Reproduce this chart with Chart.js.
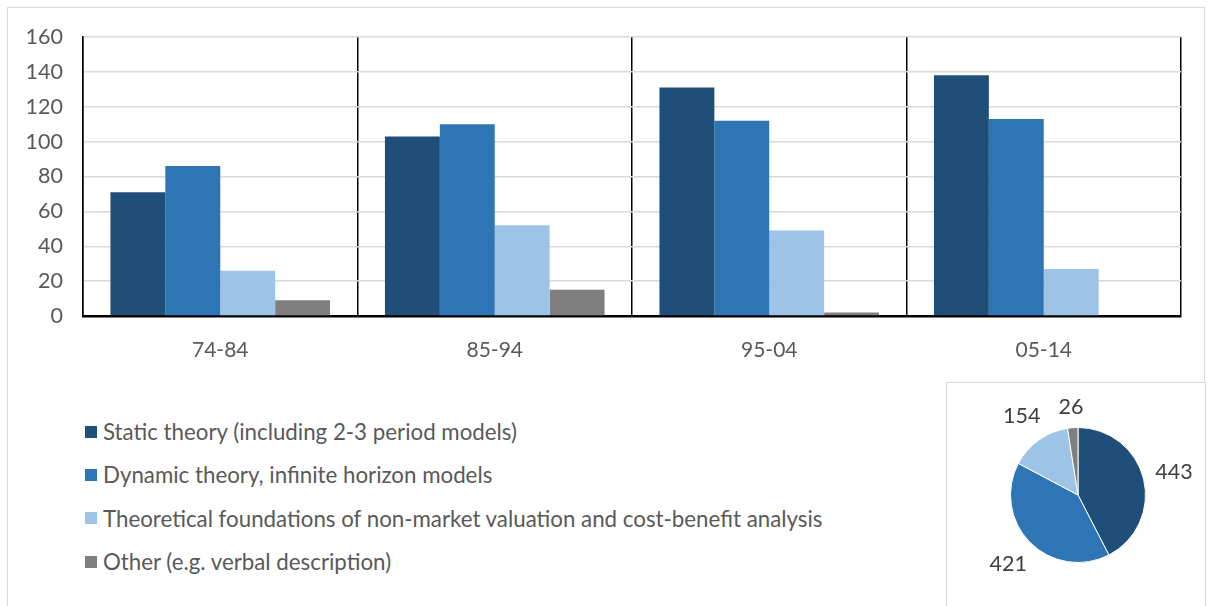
<!DOCTYPE html>
<html>

<head>
  <title>Theory papers by decade</title>
  <script src="https://cdn.jsdelivr.net/npm/chart.js"></script>
  <style>
    body { margin: 0; background: #fff; font-family: Lato, "Open Sans", sans-serif; }
    #frame { position: absolute; left: 7px; top: 7px; width: 1196px; height: 620px; border: 1.5px solid #d9d9d9; }
    #barWrap { position: absolute; left: 0; top: 0; width: 1210px; height: 380px; }
    #legend { position: absolute; left: 85px; top: 410px; color: #595959; font-size: 22.3px; }
    #legend div { height: 43.3px; display: flex; align-items: center; }
    #legend span.box { display: inline-block; width: 12px; height: 12px; margin-right: 6px; }
    #pieWrap { position: absolute; left: 946px; top: 382px; width: 258px; height: 230px; border: 1.5px solid #d9d9d9; background: #fff; }
  </style>
</head>

<body>
  <div id="frame"></div>
  <div id="barWrap"><canvas id="barChart"></canvas></div>
  <div id="legend"></div>
  <div id="pieWrap"><canvas id="pieChart"></canvas></div>
  <script>

    let periods = ['74-84', '85-94', '95-04', '05-14'];
    let seriesNames = [
      'Static theory (including 2-3 period models)',
      'Dynamic theory, infinite horizon models',
      'Theoretical foundations of non-market valuation and cost-benefit analysis',
      'Other (e.g. verbal description)'
    ];
    let staticTheory = [71, 103, 131, 138];
    let dynamicTheory = [86, 110, 112, 113];
    let foundations = [26, 52, 49, 27];
    let other = [9, 15, 2, 0];
    let totals = [443, 421, 154, 26];
    let yTicks = [0, 20, 40, 60, 80, 100, 120, 140, 160];

    let colors = ['#1f4e79', '#2e75b6', '#9dc3e6', '#7f7f7f'];
    let allSeries = [staticTheory, dynamicTheory, foundations, other];

    Chart.defaults.font.family = 'Lato, "Open Sans", sans-serif';
    Chart.defaults.color = '#595959';

    new Chart(document.getElementById('barChart'), {
      type: 'bar',
      data: {
        labels: periods,
        datasets: allSeries.map((d, i) => ({
          label: seriesNames[i],
          data: d,
          backgroundColor: colors[i],
          categoryPercentage: 0.8,
          barPercentage: 1.0
        }))
      },
      options: {
        responsive: true,
        maintainAspectRatio: false,
        animation: false,
        layout: { padding: { left: 10, right: 29, top: 37, bottom: 20 } },
        plugins: { legend: { display: false }, tooltip: { enabled: false } },
        scales: {
          x: {
            grid: { color: '#000', lineWidth: 1.5, drawTicks: false, offset: true },
            border: { color: '#000', width: 2.5 },
            ticks: { font: { size: 21 }, padding: 22 },
            afterFit: (s) => { s.height = 44; }
          },
          y: {
            min: 0,
            max: 160,
            afterBuildTicks: (s) => { s.ticks = yTicks.map(v => ({ value: v })); },
            grid: { color: '#d9d9d9', lineWidth: 1.5, drawTicks: false },
            border: { color: '#000', width: 1.5 },
            ticks: { font: { size: 21.5 }, padding: 20 },
            afterFit: (s) => { s.width = 73; }
          }
        }
      }
    });

    // legend below the bars
    let legendEl = document.getElementById('legend');
    seriesNames.forEach((name, i) => {
      let row = document.createElement('div');
      row.innerHTML = '<span class="box" style="background:' + colors[i] + '"></span>' + name;
      legendEl.appendChild(row);
    });

    // value labels outside the pie slices
    let outsideLabels = {
      id: 'outsideLabels',
      afterDatasetsDraw(chart) {
        let ctx = chart.ctx;
        let meta = chart.getDatasetMeta(0);
        ctx.save();
        ctx.font = '21.5px Lato, "Open Sans", sans-serif';
        ctx.fillStyle = '#404040';
        ctx.textAlign = 'center';
        ctx.textBaseline = 'middle';
        meta.data.forEach((arc, i) => {
          let a = (arc.startAngle + arc.endAngle) / 2;
          let dx = Math.cos(a), dy = Math.sin(a);
          let txt = String(chart.data.datasets[0].data[i]);
          let w = ctx.measureText(txt).width;
          let dist = arc.outerRadius + 11 + Math.abs(dx) * w / 2 + Math.abs(dy) * 9;
          ctx.fillText(txt, arc.x + dx * dist, arc.y + dy * dist);
        });
        ctx.restore();
      }
    };

    new Chart(document.getElementById('pieChart'), {
      type: 'pie',
      data: {
        labels: seriesNames,
        datasets: [{ data: totals, backgroundColor: colors, borderColor: '#fff', borderWidth: 1 }]
      },
      options: {
        responsive: true,
        maintainAspectRatio: false,
        animation: false,
        layout: { padding: { left: 63, right: 59, top: 44, bottom: 50 } },
        plugins: { legend: { display: false }, tooltip: { enabled: false } }
      },
      plugins: [outsideLabels]
    });

  </script>
</body>

</html>
